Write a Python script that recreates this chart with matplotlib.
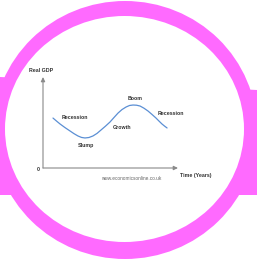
import matplotlib
matplotlib.use("Agg")
import matplotlib.pyplot as plt
from matplotlib.patches import Ellipse, Polygon

# Data (time units 0-10, GDP units 0-10)
time = [0.74, 1.0, 1.26, 1.63, 2.0, 2.3, 2.59, 2.85, 3.11, 3.40, 3.70, 4.00, 4.30,
        4.63, 4.96, 5.26, 5.56, 5.85, 6.15, 6.41, 6.67, 6.93, 7.19, 7.48, 7.78,
        8.07, 8.37, 8.59, 8.81, 9.00, 9.19]
gdp = [5.49, 5.16, 4.84, 4.44, 4.07, 3.77, 3.52, 3.36, 3.30, 3.35, 3.52, 3.80, 4.18,
       4.60, 5.05, 5.55, 6.04, 6.42, 6.70, 6.87, 6.92, 6.90, 6.81, 6.57, 6.26,
       5.89, 5.49, 5.16, 4.84, 4.61, 4.40]
phase_labels = ["Recession", "Slump", "Growth", "Boom", "Recession"]
phase_x = [2.37, 3.19, 5.85, 6.81, 9.48]
phase_y = [5.6, 2.42, 4.5, 7.69, 6.04]

W, H = 257, 267
fig = plt.figure(figsize=(W / 100, H / 100), dpi=100)
fig.patch.set_facecolor("white")

pink = "#ff6aff"
bg = fig.add_axes([0, 0, 1, 1])
bg.set_xlim(0, W)
bg.set_ylim(H, 0)
bg.axis("off")
bg.add_patch(Polygon([(0, 77), (W, 90), (W, 195), (0, 195)], closed=True, facecolor=pink, edgecolor="none"))
bg.add_patch(Ellipse((125, 130), 264, 258, facecolor=pink, edgecolor="none"))
bg.add_patch(Ellipse((124.5, 129), 239, 226, facecolor="white", edgecolor="none"))

x0, y0, x1, y1 = 43, 168, 178, 77
ax = fig.add_axes([x0 / W, (H - y0) / H, (x1 - x0) / W, (y0 - y1) / H])
ax.set_xlim(0, 10)
ax.set_ylim(0, 10)
ax.patch.set_alpha(0)
for s in ax.spines.values():
    s.set_visible(False)
ax.set_xticks([])
ax.set_yticks([])

axis_col = "#8a8a8a"
arrow = dict(arrowstyle="-|>,head_length=0.25,head_width=0.12", color=axis_col, lw=0.8, shrinkA=0, shrinkB=0)
ax.annotate("", xy=(0, 1), xytext=(0, 0), xycoords="axes fraction", arrowprops=arrow)
ax.annotate("", xy=(1, 0), xytext=(0, 0), xycoords="axes fraction", arrowprops=arrow)

ax.plot(time, gdp, color="#5b8fd4", lw=0.9, solid_capstyle="round", solid_joinstyle="round")

font = "Liberation Sans"
tc = "#333333"
for lab, lx, ly in zip(phase_labels, phase_x, phase_y):
    ax.text(lx, ly, lab, ha="center", va="center", fontsize=3.8, fontweight="bold",
            color=tc, family=font)

ax.text(-0.15, 10.66, "Real GDP", ha="center", va="center", fontsize=3.8, fontweight="bold",
        color=tc, family=font, clip_on=False)
ax.text(-0.37, -0.11, "0", ha="center", va="center", fontsize=3.8, fontweight="bold",
        color=tc, family=font, clip_on=False)
ax.text(11.33, -0.77, "Time (Years)", ha="center", va="center", fontsize=3.8, fontweight="bold",
        color=tc, family=font, clip_on=False)
ax.text(6.52, -1.1, "www.economicsonline.co.uk", ha="center", va="center", fontsize=3.4,
        color="#666666", family=font, clip_on=False)

fig.savefig("out.png", dpi=100, facecolor="white")
